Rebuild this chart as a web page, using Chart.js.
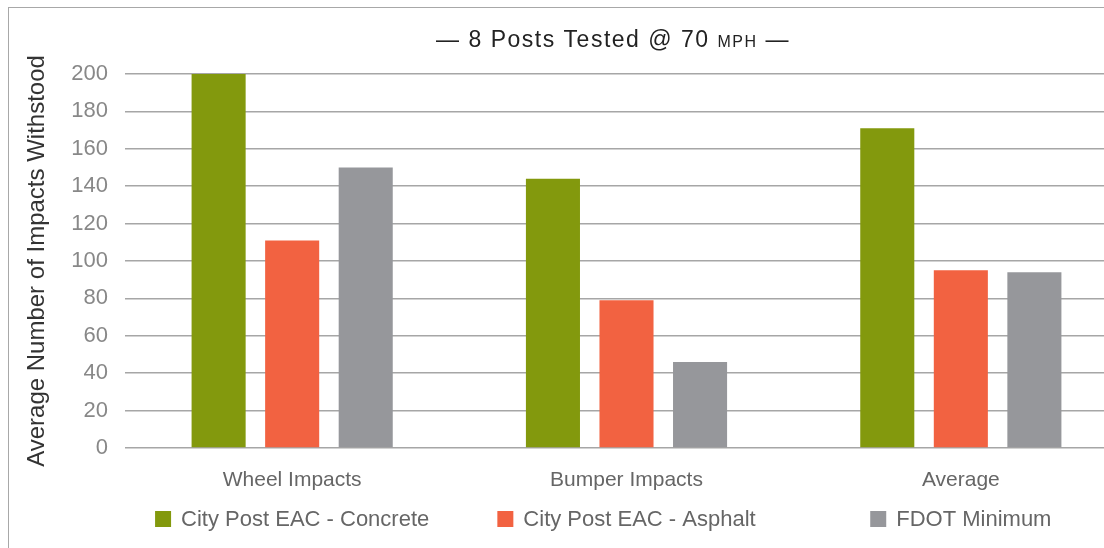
<!DOCTYPE html>
<html>
<head>
<style>
  html, body { margin: 0; padding: 0; background: #fff; overflow: hidden; }
  #wrap { position: absolute; left: 0; top: 0; width: 1130px; height: 548px; }
  #frame { position: absolute; left: 8px; top: 7px; width: 1200px; height: 700px;
           border-left: 1px solid #a8a8a8; border-top: 1px solid #a8a8a8; pointer-events: none; }
</style>
</head>
<body>
<div id="wrap">
  <canvas id="chartImpacts" width="1130" height="548"></canvas>
</div>
<div id="frame"></div>
<script src="https://cdn.jsdelivr.net/npm/chart.js@4"></script>
<script>
(function() {
    const categories = ['Wheel Impacts', 'Bumper Impacts', 'Average'];
    const seriesNames = ['City Post EAC - Concrete', 'City Post EAC - Asphalt', 'FDOT Minimum'];
    const concrete = [200, 144, 171];
    const asphalt = [111, 79, 95];
    const fdotMinimum = [150, 46, 94];
    const yTicks = [0, 20, 40, 60, 80, 100, 120, 140, 160, 180, 200];

    const colors = ['#83990D', '#F26241', '#96979B'];
    const fontFamily = '"Liberation Sans", Arial, Helvetica, sans-serif';

    // title with "mph" in small caps, drawn by hand
    const titlePlugin = {
        id: 'smallCapsTitle',
        afterDraw(chart) {
            const ctx = chart.ctx;
            const parts = [
                { text: '\u2014 8 Posts Tested @ 70 ', size: 23 },
                { text: 'MPH', size: 16 },
                { text: ' \u2014', size: 23 }
            ];
            ctx.save();
            ctx.fillStyle = '#222';
            ctx.textBaseline = 'alphabetic';
            ctx.letterSpacing = '1.5px';
            let total = 0;
            parts.forEach(p => {
                ctx.font = p.size + 'px ' + fontFamily;
                p.w = ctx.measureText(p.text).width;
                total += p.w;
            });
            let x = 613 - total / 2;
            parts.forEach(p => {
                ctx.font = p.size + 'px ' + fontFamily;
                ctx.fillText(p.text, x, 47);
                x += p.w;
            });
            ctx.restore();
        }
    };

    // legend items centred under each category group
    const groupLegend = {
        id: 'groupLegend',
        afterDraw(chart) {
            const ctx = chart.ctx;
            const xScale = chart.scales.x;
            ctx.save();
            ctx.font = '22px ' + fontFamily;
            ctx.textBaseline = 'middle';
            chart.data.datasets.forEach((ds, i) => {
                const cx = xScale.getPixelForValue(i);
                const tw = ctx.measureText(ds.label).width;
                const box = 16, gap = 10;
                const left = cx - (box + gap + tw) / 2;
                const y = 519;
                ctx.fillStyle = ds.backgroundColor;
                ctx.fillRect(left, y - box / 2, box, box);
                ctx.fillStyle = '#666';
                ctx.fillText(ds.label, left + box + gap, y + 1);
            });
            ctx.restore();
        }
    };

    const data = {
        labels: categories,
        datasets: [
            { label: seriesNames[0], data: concrete, backgroundColor: colors[0] },
            { label: seriesNames[1], data: asphalt, backgroundColor: colors[1] },
            { label: seriesNames[2], data: fdotMinimum, backgroundColor: colors[2] }
        ]
    };

    new Chart(document.getElementById('chartImpacts').getContext('2d'), {
        type: 'bar',
        data: data,
        plugins: [titlePlugin, groupLegend],
        options: {
            responsive: false,
            animation: false,
            layout: { padding: { top: 74, right: 2, bottom: 0, left: 0 } },
            datasets: { bar: { categoryPercentage: 0.66, barPercentage: 0.735 } },
            plugins: {
                legend: { display: false },
                tooltip: { enabled: false },
                title: { display: false }
            },
            scales: {
                x: {
                    grid: { display: false },
                    border: { display: false },
                    ticks: { color: '#666', padding: 12, font: { family: fontFamily, size: 21 } },
                    afterFit(scale) { scale.height = 100; }
                },
                y: {
                    min: 0,
                    max: 200,
                    afterBuildTicks(scale) { scale.ticks = yTicks.map(v => ({ value: v })); },
                    grid: { color: '#a6a6a6', lineWidth: 1.5, drawTicks: false },
                    border: { display: false },
                    ticks: { color: '#888', padding: 17, font: { family: fontFamily, size: 22 } },
                    title: {
                        display: true,
                        text: 'Average Number of Impacts Withstood',
                        color: '#333',
                        padding: { top: 23, bottom: 0 },
                        font: { family: fontFamily, size: 24 }
                    },
                    afterFit(scale) { scale.width = 125; }
                }
            }
        }
    });
})();
</script>
</body>
</html>
